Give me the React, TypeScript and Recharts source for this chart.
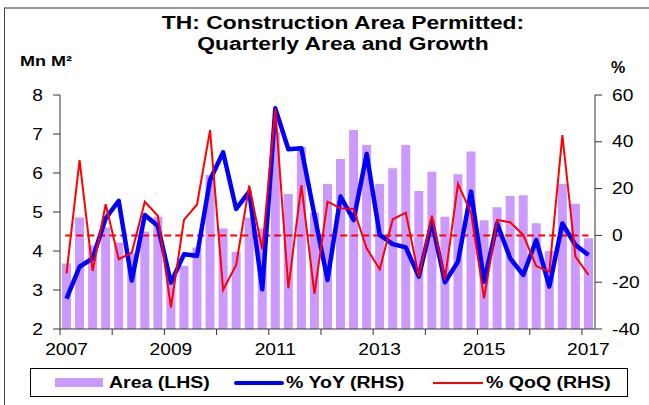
import React from 'react'
import {
  ComposedChart, Bar, Line, XAxis, YAxis, ReferenceLine, Legend
} from 'recharts'

const quarters = [
  '2007Q1', '2007Q2', '2007Q3', '2007Q4',
  '2008Q1', '2008Q2', '2008Q3', '2008Q4',
  '2009Q1', '2009Q2', '2009Q3', '2009Q4',
  '2010Q1', '2010Q2', '2010Q3', '2010Q4',
  '2011Q1', '2011Q2', '2011Q3', '2011Q4',
  '2012Q1', '2012Q2', '2012Q3', '2012Q4',
  '2013Q1', '2013Q2', '2013Q3', '2013Q4',
  '2014Q1', '2014Q2', '2014Q3', '2014Q4',
  '2015Q1', '2015Q2', '2015Q3', '2015Q4',
  '2016Q1', '2016Q2', '2016Q3', '2016Q4',
  '2017Q1',
]

// Mn m2 (LHS)
const area = [
  3.68, 4.86, 4.14, 4.6,
  4.22, 3.94, 4.5, 4.88,
  3.3, 3.62, 4.09, 5.95,
  4.58, 3.98, 4.85, 4.58,
  7.05, 5.46, 6.67, 4.98,
  5.72, 6.36, 7.1, 6.72,
  5.72, 6.12, 6.72, 5.54,
  6.03, 4.88, 5.97, 6.55,
  4.79, 5.12, 5.41, 5.43,
  4.71, 4.0, 5.72, 5.21,
  4.33,
]

// % YoY (RHS)
const yoy = [
  -27, -13.4, -9.8, 7.3,
  14.8, -19.3, 8.7, 4.0,
  -20.2, -8.1, -8.7, 23.7,
  35.5, 11.3, 18.7, -23,
  54.3, 36.8, 37.2, 8.7,
  -19, 16.6, 6.6, 34.8,
  0.2, -3.7, -5.1, -17.6,
  5.9, -20, -11.2, 18.7,
  -19.8, 5.1, -9.8, -16.9,
  -2, -21.9, 5.1, -4.1,
  -8.4,
]

// % QoQ (RHS)
const qoq = [
  -16.2, 32.2, -15.2, 13.3,
  -10.2, -7.4, 14.4, 8.4,
  -30.7, 6.6, 13.2, 45,
  -23.3, -12.6, 21.3, -6,
  54, -22.6, 21.5, -25,
  14.4, 11.6, 11.3, -5.5,
  -14.5, 6.9, 9.7, -17.6,
  8.4, -18.8, 22, 9.7,
  -26.9, 6.6, 5.6, 0.2,
  -13.1, -15.5, 42.9, -9.1,
  -16.9,
]

const yearTicks = [0, 4, 8, 12, 16, 20, 24, 28, 32, 36, 40]
const yearLabels = ['2007', '', '2009', '', '2011', '', '2013', '', '2015', '', '2017']
const leftTicks = [2, 3, 4, 5, 6, 7, 8]
const rightTicks = [-40, -20, 0, 20, 40, 60]

const data = quarters.map((q, i) => ({
  q,
  x: i + 0.5,
  area: area[i],
  yoy: yoy[i],
  qoq: qoq[i],
}))

const FONT = '"Liberation Sans", Arial, sans-serif'
const STRETCH = 1.2

function XTick(props: any) {
  const { x, y, payload } = props
  const idx = yearTicks.indexOf(payload.value)
  const label = yearLabels[idx]
  if (!label) return <g />
  return (
    <g transform={`translate(${x + 6.5},${y})`}>
      <text transform={`scale(${STRETCH},1)`} textAnchor="middle" dy="0.71em"
        fontSize={16} fontFamily={FONT} fill="#000">{label}</text>
    </g>
  )
}

function YTick(props: any) {
  const { x, y, payload, textAnchor } = props
  return (
    <g transform={`translate(${x},${y})`}>
      <text transform={`scale(${STRETCH},1)`} textAnchor={textAnchor} dy="0.355em"
        fontSize={16} fontFamily={FONT} fill="#000">{payload.value}</text>
    </g>
  )
}

const legendText: React.CSSProperties = {
  position: 'absolute', top: 4, fontSize: 16, fontWeight: 700, fontFamily: FONT,
  transform: 'scaleX(1.22)', transformOrigin: 'left center', whiteSpace: 'nowrap', lineHeight: '20px',
}

const titleLine: React.CSSProperties = {
  position: 'absolute', left: 143, width: 400, textAlign: 'center', fontSize: 18, fontWeight: 700,
  lineHeight: '20px', transform: 'scaleX(1.27)', transformOrigin: 'center', whiteSpace: 'nowrap',
}

function LegendBox() {
  return (
    <div style={{ position: 'relative', width: 596, height: 27, border: '1px solid #000', background: '#fff' }}>
      <div style={{ position: 'absolute', left: 24, top: 9, width: 48, height: 9, background: '#CC99FF' }} />
      <div style={{ ...legendText, left: 78 }}>Area (LHS)</div>
      <div style={{ position: 'absolute', left: 203, top: 12, width: 50, height: 4, background: '#0000FF', borderRadius: 2 }} />
      <div style={{ ...legendText, left: 255 }}>% YoY (RHS)</div>
      <div style={{ position: 'absolute', left: 402, top: 13, width: 50, height: 2, background: '#FF0000' }} />
      <div style={{ ...legendText, left: 455 }}>% QoQ (RHS)</div>
    </div>
  )
}

export default function App() {
  return (
    <div style={{ position: 'absolute', left: 0, top: 0, width: 649, height: 405, background: '#fff', overflow: 'hidden', fontFamily: FONT }}>
      <div style={{ position: 'absolute', left: 4, top: 7, width: 660, height: 420, borderTop: '2px solid #999', borderLeft: '1px solid #444' }} />
      <div style={{ ...titleLine, top: 13 }}>TH: Construction Area Permitted:</div>
      <div style={{ ...titleLine, top: 34 }}>Quarterly Area and Growth</div>
      <div style={{ position: 'absolute', left: 20, top: 52, fontSize: 15, fontWeight: 700, transform: 'scaleX(1.2)', transformOrigin: 'left center' }}>
        Mn M²
      </div>
      <div style={{ position: 'absolute', left: 611, top: 59, fontSize: 16, fontWeight: 700 }}>%</div>
      <ComposedChart width={649} height={405} data={data} margin={{ top: 95, right: 0, bottom: 46, left: 0 }}
        style={{ position: 'absolute', left: 0, top: 0 }}>
        <XAxis dataKey="x" type="number" domain={[0, 41]} ticks={yearTicks} interval={0}
          tick={(p: any) => <XTick {...p} />} tickSize={6} tickMargin={9} height={30}
          axisLine={{ stroke: '#333' }} tickLine={{ stroke: '#333' }} />
        <YAxis yAxisId="left" domain={[2, 8]} ticks={leftTicks} width={60} interval={0}
          tick={(p: any) => <YTick {...p} />} tickSize={7} tickMargin={10}
          axisLine={{ stroke: '#333' }} tickLine={{ stroke: '#333' }} />
        <YAxis yAxisId="right" orientation="right" domain={[-40, 60]} ticks={rightTicks} width={54} interval={0}
          tick={(p: any) => <YTick {...p} />} tickSize={7} tickMargin={10}
          axisLine={{ stroke: '#333' }} tickLine={{ stroke: '#333' }} />
        <Bar yAxisId="left" dataKey="area" name="Area (LHS)" fill="#CC99FF" barSize={9} isAnimationActive={false} />
        <ReferenceLine yAxisId="right" segment={[{ x: 0.4, y: 0 }, { x: 40.5, y: 0 }]}
          stroke="#FF0000" strokeWidth={2} strokeDasharray="7 4" />
        <Line yAxisId="right" dataKey="yoy" name="% YoY (RHS)" type="linear" stroke="#0000FF" strokeWidth={4.5}
          dot={false} strokeLinejoin="round" isAnimationActive={false} />
        <Line yAxisId="right" dataKey="qoq" name="% QoQ (RHS)" type="linear" stroke="#FF0000" strokeWidth={2}
          dot={false} isAnimationActive={false} />
        <Legend layout="horizontal" verticalAlign="middle" content={() => <LegendBox />}
          wrapperStyle={{ position: 'absolute', left: 30, top: 368, width: 598, height: 29, margin: 0 }} />
      </ComposedChart>
    </div>
  )
}
